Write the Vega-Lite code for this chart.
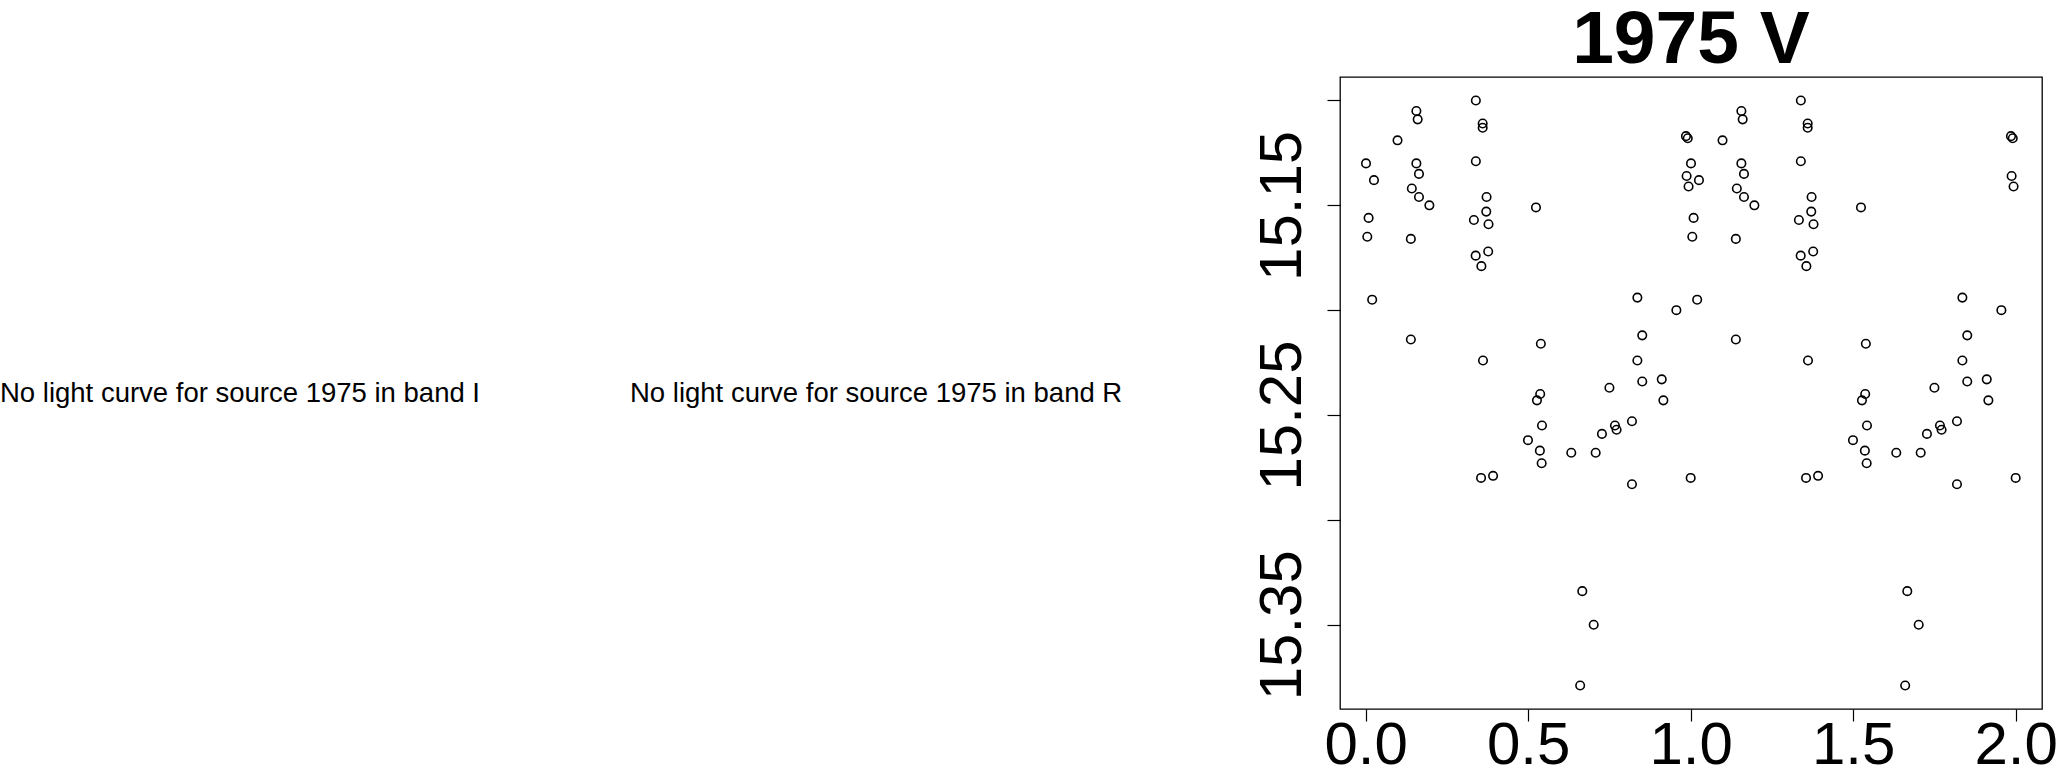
{
  "$schema": "https://vega.github.io/schema/vega-lite/v6.json",
  "background": "white",
  "padding": {"left": 0, "top": 2, "right": 0, "bottom": 0},
  "spacing": 0,
  "bounds": "flush",
  "config": {"view": {"stroke": null}, "font": "Liberation Sans"},
  "hconcat": [
    {
      "width": 630,
      "height": 632,
      "data": {"values": [{"label": "No light curve for source 1975 in band I", "pos": 0, "level": 0.4858}]},
      "mark": {"type": "text", "align": "left", "baseline": "alphabetic", "fontSize": 27.5, "font": "Liberation Sans", "color": "black"},
      "encoding": {
        "x": {"field": "pos", "type": "quantitative", "scale": {"domain": [0, 1]}, "axis": null},
        "y": {"field": "level", "type": "quantitative", "scale": {"domain": [0, 1]}, "axis": null},
        "text": {"field": "label"}
      }
    },
    {
      "width": 710,
      "height": 632,
      "data": {"values": [{"label": "No light curve for source 1975 in band R", "pos": 0, "level": 0.4858}]},
      "mark": {"type": "text", "align": "left", "baseline": "alphabetic", "fontSize": 27.5, "font": "Liberation Sans", "color": "black"},
      "encoding": {
        "x": {"field": "pos", "type": "quantitative", "scale": {"domain": [0, 1]}, "axis": null},
        "y": {"field": "level", "type": "quantitative", "scale": {"domain": [0, 1]}, "axis": null},
        "text": {"field": "label"}
      }
    },
    {
      "width": 702,
      "height": 632,
      "view": {"stroke": "black", "strokeWidth": 1.3},
      "title": {"text": "1975 V", "fontSize": 75, "fontWeight": "bold", "font": "Liberation Sans", "color": "black", "anchor": "middle", "frame": "group", "baseline": "alphabetic", "offset": -61},
      "data": {"values": [
        {"phase": 0.001, "mag": 15.130}, {"phase": 0.0255, "mag": 15.138}, {"phase": 0.009, "mag": 15.156}, {"phase": 0.005, "mag": 15.165},
        {"phase": 0.020, "mag": 15.195}, {"phase": 0.098, "mag": 15.119}, {"phase": 0.156, "mag": 15.105}, {"phase": 0.160, "mag": 15.109},
        {"phase": 0.156, "mag": 15.130}, {"phase": 0.164, "mag": 15.135}, {"phase": 0.142, "mag": 15.142}, {"phase": 0.164, "mag": 15.146},
        {"phase": 0.196, "mag": 15.150}, {"phase": 0.139, "mag": 15.166}, {"phase": 0.139, "mag": 15.214}, {"phase": 0.339, "mag": 15.100},
        {"phase": 0.360, "mag": 15.111}, {"phase": 0.360, "mag": 15.113}, {"phase": 0.339, "mag": 15.129}, {"phase": 0.372, "mag": 15.146},
        {"phase": 0.333, "mag": 15.157}, {"phase": 0.371, "mag": 15.153}, {"phase": 0.378, "mag": 15.159}, {"phase": 0.3385, "mag": 15.174},
        {"phase": 0.377, "mag": 15.172}, {"phase": 0.356, "mag": 15.179}, {"phase": 0.361, "mag": 15.224}, {"phase": 0.355, "mag": 15.280},
        {"phase": 0.392, "mag": 15.279}, {"phase": 0.524, "mag": 15.151}, {"phase": 0.539, "mag": 15.216}, {"phase": 0.537, "mag": 15.240},
        {"phase": 0.527, "mag": 15.243}, {"phase": 0.5425, "mag": 15.255}, {"phase": 0.4994, "mag": 15.262}, {"phase": 0.536, "mag": 15.267},
        {"phase": 0.5415, "mag": 15.273}, {"phase": 0.6326, "mag": 15.268}, {"phase": 0.6665, "mag": 15.334}, {"phase": 0.7016, "mag": 15.350},
        {"phase": 0.660, "mag": 15.379}, {"phase": 0.7077, "mag": 15.268}, {"phase": 0.727, "mag": 15.259}, {"phase": 0.750, "mag": 15.237},
        {"phase": 0.767, "mag": 15.255}, {"phase": 0.772, "mag": 15.257}, {"phase": 0.8194, "mag": 15.253}, {"phase": 0.8194, "mag": 15.283},
        {"phase": 0.836, "mag": 15.194}, {"phase": 0.851, "mag": 15.212}, {"phase": 0.836, "mag": 15.224}, {"phase": 0.851, "mag": 15.234},
        {"phase": 0.911, "mag": 15.233}, {"phase": 0.916, "mag": 15.243}, {"phase": 0.956, "mag": 15.200}, {"phase": 0.9855, "mag": 15.117},
        {"phase": 0.991, "mag": 15.118}, {"phase": 0.9875, "mag": 15.136}, {"phase": 0.9935, "mag": 15.141}, {"phase": 1.000, "mag": 15.280},
        {"phase": 1.001, "mag": 15.130}, {"phase": 1.0255, "mag": 15.138}, {"phase": 1.009, "mag": 15.156}, {"phase": 1.005, "mag": 15.165},
        {"phase": 1.020, "mag": 15.195}, {"phase": 1.098, "mag": 15.119}, {"phase": 1.156, "mag": 15.105}, {"phase": 1.160, "mag": 15.109},
        {"phase": 1.156, "mag": 15.130}, {"phase": 1.164, "mag": 15.135}, {"phase": 1.142, "mag": 15.142}, {"phase": 1.164, "mag": 15.146},
        {"phase": 1.196, "mag": 15.150}, {"phase": 1.139, "mag": 15.166}, {"phase": 1.139, "mag": 15.214}, {"phase": 1.339, "mag": 15.100},
        {"phase": 1.360, "mag": 15.111}, {"phase": 1.360, "mag": 15.113}, {"phase": 1.339, "mag": 15.129}, {"phase": 1.372, "mag": 15.146},
        {"phase": 1.333, "mag": 15.157}, {"phase": 1.371, "mag": 15.153}, {"phase": 1.378, "mag": 15.159}, {"phase": 1.3385, "mag": 15.174},
        {"phase": 1.377, "mag": 15.172}, {"phase": 1.356, "mag": 15.179}, {"phase": 1.361, "mag": 15.224}, {"phase": 1.355, "mag": 15.280},
        {"phase": 1.392, "mag": 15.279}, {"phase": 1.524, "mag": 15.151}, {"phase": 1.539, "mag": 15.216}, {"phase": 1.537, "mag": 15.240},
        {"phase": 1.527, "mag": 15.243}, {"phase": 1.5425, "mag": 15.255}, {"phase": 1.4994, "mag": 15.262}, {"phase": 1.536, "mag": 15.267},
        {"phase": 1.5415, "mag": 15.273}, {"phase": 1.6326, "mag": 15.268}, {"phase": 1.6665, "mag": 15.334}, {"phase": 1.7016, "mag": 15.350},
        {"phase": 1.660, "mag": 15.379}, {"phase": 1.7077, "mag": 15.268}, {"phase": 1.727, "mag": 15.259}, {"phase": 1.750, "mag": 15.237},
        {"phase": 1.767, "mag": 15.255}, {"phase": 1.772, "mag": 15.257}, {"phase": 1.8194, "mag": 15.253}, {"phase": 1.8194, "mag": 15.283},
        {"phase": 1.836, "mag": 15.194}, {"phase": 1.851, "mag": 15.212}, {"phase": 1.836, "mag": 15.224}, {"phase": 1.851, "mag": 15.234},
        {"phase": 1.911, "mag": 15.233}, {"phase": 1.916, "mag": 15.243}, {"phase": 1.956, "mag": 15.200}, {"phase": 1.9855, "mag": 15.117},
        {"phase": 1.991, "mag": 15.118}, {"phase": 1.9875, "mag": 15.136}, {"phase": 1.9935, "mag": 15.141}, {"phase": 2.000, "mag": 15.280}
      ]},
      "mark": {"type": "point", "shape": "circle", "filled": false, "size": 72, "strokeWidth": 1.6, "color": "black", "opacity": 1},
      "encoding": {
        "x": {
          "field": "phase", "type": "quantitative",
          "scale": {"domain": [-0.079, 2.081], "nice": false, "zero": false},
          "axis": {"title": null, "values": [0, 0.5, 1, 1.5, 2], "format": ".1f", "domain": false, "grid": false,
                   "tickSize": 12, "tickColor": "black", "tickWidth": 1.2, "labelFontSize": 60, "labelFont": "Liberation Sans",
                   "labelColor": "black", "labelBaseline": "alphabetic", "labelPadding": 42.5, "labelFlush": false, "labelOverlap": false}
        },
        "y": {
          "field": "mag", "type": "quantitative",
          "scale": {"domain": [15.0888, 15.3902], "reverse": true, "nice": false, "zero": false},
          "axis": {"title": null, "values": [15.10, 15.15, 15.20, 15.25, 15.30, 15.35], "domain": false, "grid": false,
                   "labelExpr": "indexof(['15.15','15.25','15.35'], format(datum.value, '.2f')) >= 0 ? format(datum.value, '.2f') : ''",
                   "tickSize": 13, "tickColor": "black", "tickWidth": 1.2, "labelFontSize": 60, "labelFont": "Liberation Sans",
                   "labelColor": "black", "labelAngle": 270, "labelAlign": "center", "labelBaseline": "alphabetic",
                   "labelPadding": 27, "labelFlush": false, "labelOverlap": false}
        }
      }
    }
  ]
}
